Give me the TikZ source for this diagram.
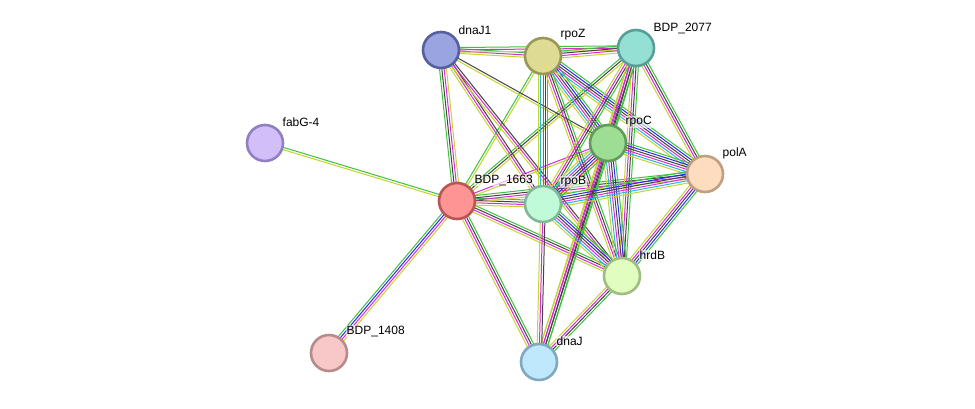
\documentclass[tikz,border=0pt]{standalone}
\usepackage{fontspec}
\setmainfont{Liberation Sans}
\usetikzlibrary{calc, backgrounds}
\definecolor{eG}{HTML}{3CC43C}
\definecolor{eR}{HTML}{F02828}
\definecolor{eB}{HTML}{2A2AF0}
\definecolor{eK}{HTML}{444444}
\definecolor{eM}{HTML}{DC28DC}
\definecolor{eC}{HTML}{28B4E0}
\definecolor{eY}{HTML}{C4D430}
% node fills / rims
\definecolor{fDnaJone}{HTML}{9AA4E0}   \definecolor{dDnaJone}{HTML}{5460A0}
\definecolor{fRpoZ}{HTML}{DEDB94}      \definecolor{dRpoZ}{HTML}{9A9856}
\definecolor{fBdpA}{HTML}{94E0D4}      \definecolor{dBdpA}{HTML}{58A096}
\definecolor{fFabG}{HTML}{D2BFFA}      \definecolor{dFabG}{HTML}{9080C2}
\definecolor{fRpoC}{HTML}{9EDE94}      \definecolor{dRpoC}{HTML}{5E9C58}
\definecolor{fPolA}{HTML}{FDDCBF}      \definecolor{dPolA}{HTML}{BEA080}
\definecolor{fBdpB}{HTML}{FE9494}      \definecolor{dBdpB}{HTML}{B85656}
\definecolor{fRpoB}{HTML}{C0FAD8}      \definecolor{dRpoB}{HTML}{80B898}
\definecolor{fHrdB}{HTML}{E2FDC0}      \definecolor{dHrdB}{HTML}{A0BE84}
\definecolor{fBdpC}{HTML}{F8C8C8}      \definecolor{dBdpC}{HTML}{B88A8A}
\definecolor{fDnaJ}{HTML}{C0E8FD}      \definecolor{dDnaJ}{HTML}{80A8C0}

% one STRING-like edge: parallel lines, one per evidence colour
\newcommand{\evedge}[3]{%
  \foreach \c [count=\n] in {#3} {\xdef\nlines{\n}}%
  \foreach \c [count=\i] in {#3} {%
    \pgfmathsetmacro{\off}{((\nlines+1)/2-\i)*2.3}%
    \draw[evline, draw=\c] ($(#1)!\off pt!90:(#2)$) -- ($(#2)!\off pt!-90:(#1)$);
  }%
}

\begin{document}
\begin{tikzpicture}[
  x=1pt, y=-1pt,
  prot/.style n args={2}{
    circle, draw=#2, fill=#1, line width=2.6pt,
    minimum size=36pt, inner sep=0pt
  },
  protlbl/.style={
    anchor=west, font=\fontsize{12}{14}\selectfont,
    fill=white, fill opacity=0.6, text opacity=1, inner sep=0.5pt
  },
  evline/.style={line width=1pt}
]
\useasboundingbox (0,0) rectangle (975,408);

\node[prot={fDnaJone}{dDnaJone}] (dnaJ1)   at (441,50)  {};
\node[prot={fRpoZ}{dRpoZ}]       (rpoZ)    at (543,56)  {};
\node[prot={fBdpA}{dBdpA}]       (bdp2077) at (636,48)  {};
\node[prot={fFabG}{dFabG}]       (fabG4)   at (265,143) {};
\node[prot={fRpoC}{dRpoC}]       (rpoC)    at (608,143) {};
\node[prot={fPolA}{dPolA}]       (polA)    at (705,174) {};
\node[prot={fBdpB}{dBdpB}]       (bdp1663) at (457,201) {};
\node[prot={fRpoB}{dRpoB}]       (rpoB)    at (543,204) {};
\node[prot={fHrdB}{dHrdB}]       (hrdB)    at (622,276) {};
\node[prot={fBdpC}{dBdpC}]       (bdp1408) at (329,353) {};
\node[prot={fDnaJ}{dDnaJ}]       (dnaJ)    at (539,362) {};

\begin{scope}[on background layer]
\fill[white] (0,0) rectangle (975,408);
\evedge{fabG4}{bdp1663}{eG,eY}
\evedge{bdp1408}{bdp1663}{eG,eB,eM,eY}
\evedge{bdp1663}{dnaJ}{eG,eK,eM,eY}
\evedge{bdp1663}{dnaJ1}{eG,eK,eM,eY}
\evedge{bdp1663}{rpoZ}{eG,eY}
\evedge{bdp1663}{bdp2077}{eG,eK,eY}
\evedge{bdp1663}{rpoC}{eM,eY}
\evedge{bdp1663}{rpoB}{eG,eK,eM,eY}
\evedge{bdp1663}{polA}{eG,eK,eM,eY}
\evedge{bdp1663}{hrdB}{eG,eK,eM,eY}
\evedge{dnaJ1}{rpoZ}{eG,eM,eY}
\evedge{dnaJ1}{bdp2077}{eG,eM,eY}
\evedge{dnaJ1}{rpoB}{eK,eM,eY}
\evedge{dnaJ1}{rpoC}{eK,eY}
\evedge{dnaJ1}{hrdB}{eK,eM,eY}
\evedge{rpoZ}{bdp2077}{eG,eK,eM,eY}
\evedge{rpoZ}{rpoB}{eG,eK,eM,eC,eY}
\evedge{rpoZ}{rpoC}{eG,eB,eK,eM,eC,eY}
\evedge{rpoZ}{polA}{eG,eB,eK,eM,eC,eY}
\evedge{rpoZ}{hrdB}{eG,eK,eM,eY}
\evedge{bdp2077}{rpoC}{eG,eK,eM,eY}
\evedge{bdp2077}{rpoB}{eG,eK,eM,eY}
\evedge{bdp2077}{polA}{eG,eK,eM,eY}
\evedge{bdp2077}{hrdB}{eG,eK,eM,eY}
\evedge{bdp2077}{dnaJ}{eG,eK,eM,eY}
\evedge{rpoC}{rpoB}{eG,eR,eB,eK,eM,eC,eY}
\evedge{rpoC}{polA}{eG,eB,eK,eM,eC,eY}
\evedge{rpoC}{hrdB}{eG,eB,eK,eM,eC,eY}
\evedge{rpoC}{dnaJ}{eG,eK,eM,eY}
\evedge{rpoB}{polA}{eG,eB,eK,eM,eC,eY}
\evedge{rpoB}{hrdB}{eG,eB,eK,eM,eC,eY}
\evedge{rpoB}{dnaJ}{eK,eM,eY}
\evedge{polA}{hrdB}{eG,eB,eK,eM,eY}
\evedge{hrdB}{dnaJ}{eG,eK,eM,eY}
\end{scope}

\node[protlbl] (l-dnaJ1)   at ($(dnaJ1)+(17,-20)$)   {dnaJ1};
\node[protlbl] (l-rpoZ)    at ($(rpoZ)+(17,-21)$)    {rpoZ};
\node[protlbl] (l-bdp2077) at ($(bdp2077)+(17,-20)$) {BDP\_2077};
\node[protlbl] (l-fabG4)   at ($(fabG4)+(17,-21)$)   {fabG-4};
\node[protlbl] (l-rpoC)    at ($(rpoC)+(17,-21)$)    {rpoC};
\node[protlbl] (l-polA)    at ($(polA)+(17,-21)$)    {polA};
\node[protlbl] (l-bdp1663) at ($(bdp1663)+(17,-21)$) {BDP\_1663};
\node[protlbl] (l-rpoB)    at ($(rpoB)+(17,-22)$)    {rpoB};
\node[protlbl] (l-hrdB)    at ($(hrdB)+(17,-21)$)    {hrdB};
\node[protlbl] (l-bdp1408) at ($(bdp1408)+(17,-22)$) {BDP\_1408};
\node[protlbl] (l-dnaJ)    at ($(dnaJ)+(17,-21)$)    {dnaJ};
\end{tikzpicture}
\end{document}
